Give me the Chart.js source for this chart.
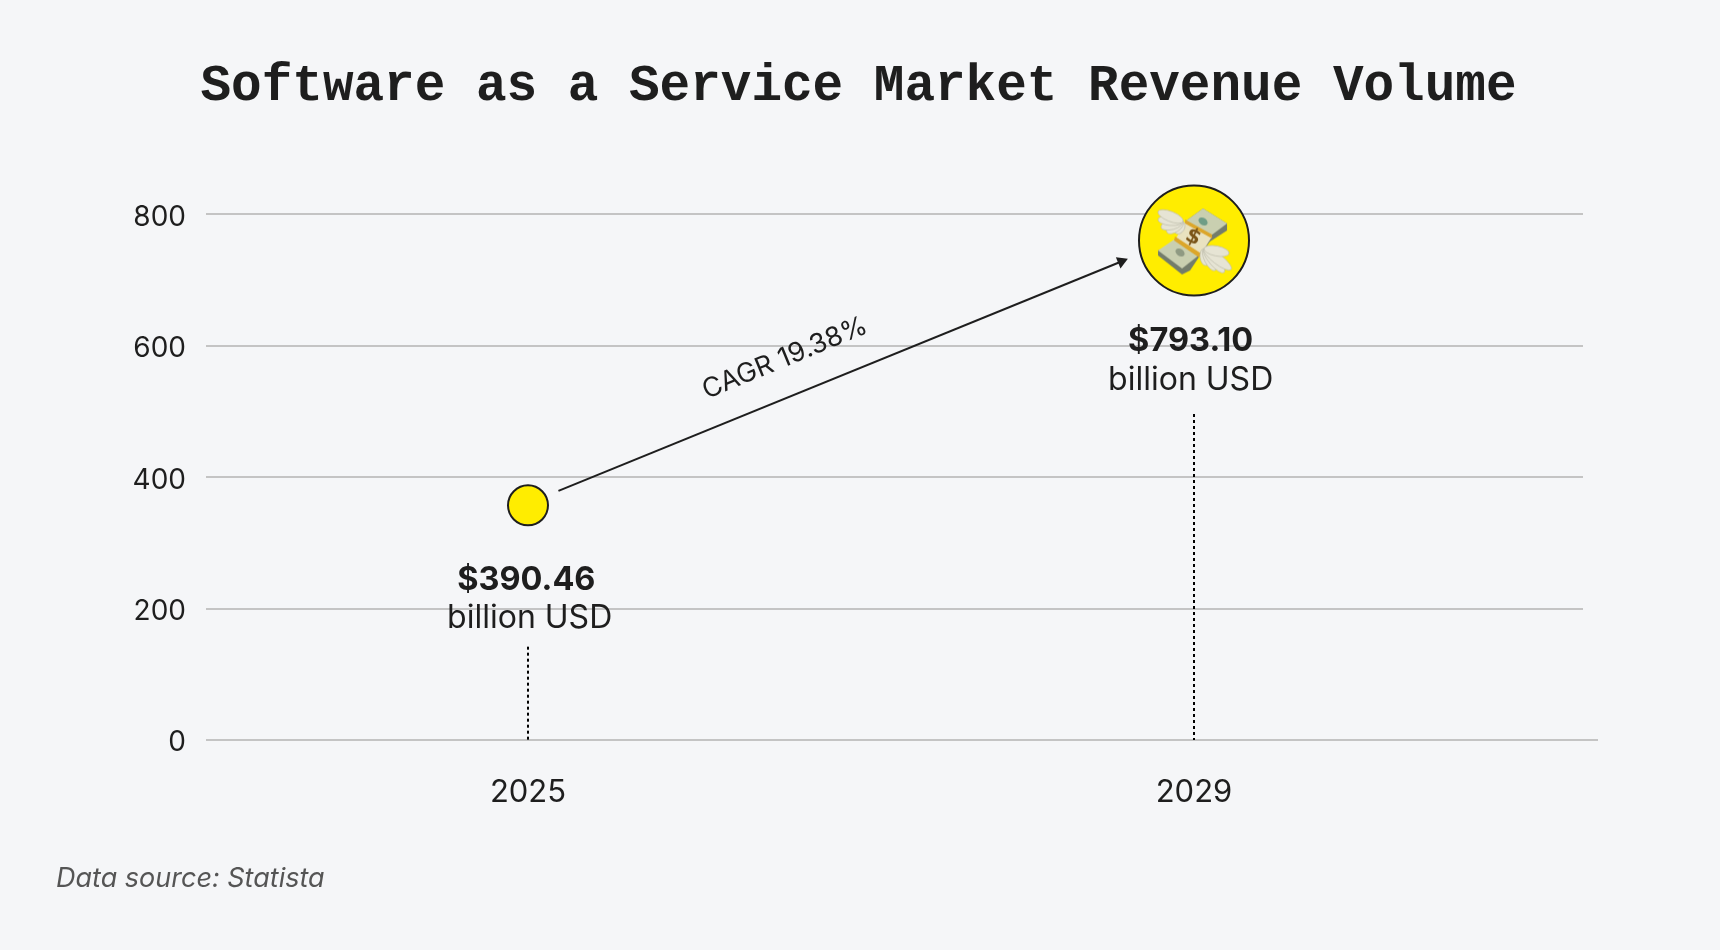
<!DOCTYPE html>
<html>
<head>
<meta charset="utf-8">
<title>Software as a Service Market Revenue Volume</title>
<script src="https://cdn.jsdelivr.net/npm/chart.js@4"></script>
<style>
    html, body { margin: 0; padding: 0; background: #f5f6f8; }
    canvas { display: block; }
</style>
</head>
<body>
<canvas id="grafico" width="1720" height="950"></canvas>
<script>
const INK = '#1e1e1e';
const GRID = '#c4c4c4';
const YELLOW = '#ffed00';

const titulo = 'Software as a Service Market Revenue Volume';
const fonte = 'Data source: Statista';

// Dados
const years = [2025, 2029];
const markerValues = [357, 760];
const yTicks = [0, 200, 400, 600, 800];
const xRange = [2023.0661, 2031.3363];
const baselineX = [2023.0661, 2031.4264];
const baselineY = [0, 0];

const drop2025Y = [142, 0];
const drop2029Y = [496, 0];

const arrowX = [2025.183, 2028.564];
const arrowY = [379, 728];

// Textos sobre o gráfico (ano, valor)
const amountLabels = ['$390.46', '$793.10'];
const amountX = [2024.99, 2028.98];
const amountY = [243, 606];
const unitLabel = 'billion USD';
const unitX = [2025.01, 2028.98];
const unitY = [185, 547];
const cagrLabel = 'CAGR 19.38%';
const cagrX = 2026.543;
const cagrY = 581;

// Desenha o ícone do dinheiro voador (sem fonte de emoji no ambiente)
function criarIcone() {
    const c = document.createElement('canvas');
    c.width = 84;
    c.height = 84;
    const g = c.getContext('2d');
    g.translate(42, 42);

    const poly = (pts, cor) => {
        g.beginPath();
        pts.forEach((p, i) => i ? g.lineTo(p[0], p[1]) : g.moveTo(p[0], p[1]));
        g.closePath();
        g.fillStyle = cor;
        g.fill();
    };

    const pena = (r, t, largura) => {
        const dx = t[0] - r[0], dy = t[1] - r[1];
        g.beginPath();
        g.ellipse((r[0] + t[0]) / 2, (r[1] + t[1]) / 2, Math.hypot(dx, dy) / 2, largura, Math.atan2(dy, dx), 0, Math.PI * 2);
        g.fillStyle = '#e6e4d4';
        g.fill();
        g.strokeStyle = '#bdbbaa';
        g.lineWidth = 0.7;
        g.stroke();
    };

    // Lados das notas
    poly([[-36, 10], [-36, 15], [-12, 34], [-4, 30], [8, 12], [-12, 0]], '#737c6b');
    poly([[-9, -19], [9, -32], [33, -17], [33, -10], [16, 1], [8, 12], [-12, 0]], '#737c6b');
    // Faces das notas
    poly([[-36, 10], [-17, -3], [7, 13], [-12, 28]], '#c9cfb0');
    poly([[-9, -19], [9, -32], [33, -17], [17, -5]], '#c9cfb0');
    g.beginPath();
    g.ellipse(-14, 12, 5, 3.5, 0.6, 0, Math.PI * 2);
    g.fillStyle = '#8f9a82';
    g.fill();
    g.beginPath();
    g.ellipse(9, -19, 5, 3.5, 0.6, 0, Math.PI * 2);
    g.fillStyle = '#6f9d86';
    g.fill();
    // Cinta central
    poly([[-9, -19], [18, -4], [6, 15], [-18, -2]], '#e9e2c0');
    poly([[-9, -21], [18, -6], [18, -2], [-9, -17]], '#dca62a');
    poly([[-19, -4], [7, 13], [5, 17], [-20, 0]], '#dca62a');
    g.save();
    g.translate(-1, -3);
    g.rotate(0.45);
    g.fillStyle = '#7a5417';
    g.font = 'bold 21px "DejaVu Sans"';
    g.textAlign = 'center';
    g.textBaseline = 'middle';
    g.fillText('$', 0, 0);
    g.restore();

    // Asas
    [[-18, -7], [-27, -8], [-33, -13], [-36, -21], [-36, -29]].forEach(t => pena([-11, -19], t, 5));
    [[12, 25], [21, 30], [30, 32], [37, 29], [35, 13]].forEach(t => pena([10, 8], t, 5));
    return c;
}

const icone = criarIcone();

// Rótulos de valor e CAGR
const textosPlugin = {
    id: 'textos',
    afterDatasetsDraw(chart) {
        const { ctx, scales: { x, y } } = chart;
        ctx.save();
        ctx.fillStyle = INK;
        ctx.textAlign = 'center';
        ctx.textBaseline = 'middle';

        amountLabels.forEach((txt, i) => {
            ctx.font = 'bold 32.5px Inter';
            ctx.fillText(txt, x.getPixelForValue(amountX[i]), y.getPixelForValue(amountY[i]));
            ctx.font = '32px Inter';
            ctx.fillText(unitLabel, x.getPixelForValue(unitX[i]), y.getPixelForValue(unitY[i]));
        });

        ctx.translate(x.getPixelForValue(cagrX), y.getPixelForValue(cagrY));
        ctx.rotate(-22.4 * Math.PI / 180);
        ctx.font = '27px Inter';
        ctx.fillText(cagrLabel, 0, 0);
        ctx.restore();
    }
};

new Chart(document.getElementById('grafico'), {
    type: 'line',
    plugins: [textosPlugin],
    data: {
        datasets: [
            {
                label: 'icon',
                data: [{ x: years[1], y: markerValues[1] }],
                showLine: false,
                pointStyle: icone,
                clip: false,
                order: 0
            },
            {
                label: 'Revenue',
                data: years.map((a, i) => ({ x: a, y: markerValues[i] })),
                showLine: false,
                pointRadius: [20, 55],
                pointBackgroundColor: YELLOW,
                pointBorderColor: INK,
                pointBorderWidth: 2,
                clip: false,
                order: 1
            },
            {
                label: 'CAGR',
                data: arrowX.map((a, i) => ({ x: a, y: arrowY[i] })),
                borderColor: INK,
                borderWidth: 2,
                pointStyle: 'triangle',
                pointRadius: [0, 7],
                pointRotation: [0, 67.6],
                pointBackgroundColor: INK,
                pointBorderWidth: 0,
                clip: false,
                order: 2
            },
            {
                label: 'drop 2025',
                data: drop2025Y.map(v => ({ x: years[0], y: v })),
                borderColor: '#000000',
                borderWidth: 2,
                borderDash: [3, 3],
                pointRadius: 0,
                order: 2
            },
            {
                label: 'drop 2029',
                data: drop2029Y.map(v => ({ x: years[1], y: v })),
                borderColor: '#000000',
                borderWidth: 2,
                borderDash: [3, 3],
                pointRadius: 0,
                order: 2
            },
            {
                label: 'baseline',
                data: baselineX.map((a, i) => ({ x: a, y: baselineY[i] })),
                borderColor: GRID,
                borderWidth: 2,
                pointRadius: 0,
                clip: false,
                order: 3
            }
        ]
    },
    options: {
        responsive: false,
        animation: false,
        layout: { padding: { left: 56, right: 59, top: 0, bottom: 0 } },
        plugins: {
            legend: { display: false },
            tooltip: { enabled: false },
            title: {
                display: true,
                text: titulo,
                color: INK,
                font: { family: '"Liberation Mono"', size: 51, weight: 'bold', lineHeight: 1.2 },
                padding: { top: 56.5, bottom: 96.5 }
            },
            subtitle: {
                display: true,
                text: fonte,
                position: 'bottom',
                align: 'start',
                color: '#555555',
                font: { family: 'Inter', size: 27, style: 'italic', lineHeight: 1.2 },
                padding: { top: 0, bottom: 55.1 }
            }
        },
        scales: {
            x: {
                type: 'linear',
                min: xRange[0],
                max: xRange[1],
                border: { display: false },
                grid: { display: false },
                afterBuildTicks: s => { s.ticks = years.map(v => ({ value: v })); },
                afterFit: s => { s.height = 122.5; },
                ticks: {
                    color: INK,
                    font: { family: 'Inter', size: 31 },
                    padding: 26,
                    maxRotation: 0,
                    callback: v => String(v)
                }
            },
            y: {
                min: 0,
                max: 800,
                border: { display: false },
                grid: { color: GRID, lineWidth: 2, drawTicks: false },
                afterBuildTicks: s => { s.ticks = yTicks.map(v => ({ value: v })); },
                afterFit: s => { s.width = 150; },
                ticks: {
                    color: INK,
                    font: { family: 'Inter', size: 28 },
                    padding: 20,
                    labelOffset: 3
                }
            },
            // eixo vazio só para as linhas de grade terminarem antes da borda
            margem: {
                position: 'right',
                border: { display: false },
                grid: { drawOnChartArea: false, drawTicks: false },
                ticks: { display: false },
                afterFit: s => { s.width = 78; }
            }
        }
    }
});
</script>
</body>
</html>
